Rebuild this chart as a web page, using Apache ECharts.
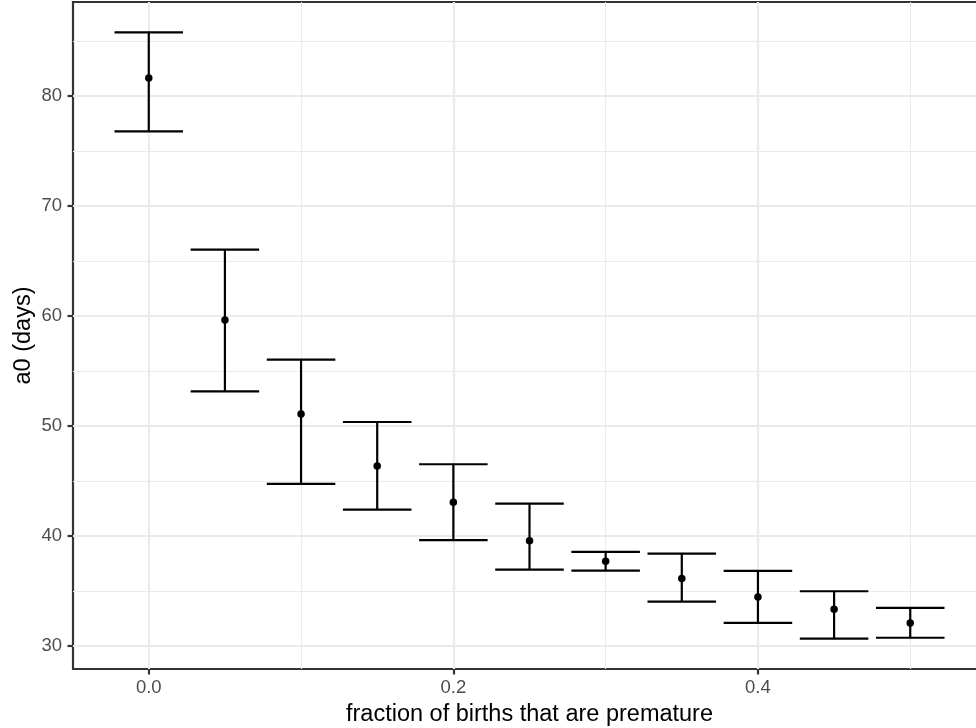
<!DOCTYPE html>
<html>
<head>
<meta charset="utf-8">
<script src="https://cdn.jsdelivr.net/npm/echarts@6/dist/echarts.min.js"></script>
<style>
html,body{margin:0;padding:0;background:#fff;}
#chart{width:976px;height:728px;}
</style>
</head>
<body>
<div id="chart"></div>
<script>
// ---- data ----
const xVals     = [0, 0.05, 0.1, 0.15, 0.2, 0.25, 0.3, 0.35, 0.4, 0.45, 0.5];
const meanVals  = [81.64, 59.64, 51.09, 46.36, 43.06, 39.57, 37.70, 36.12, 34.45, 33.34, 32.09];
const lowerVals = [76.79, 53.15, 44.73, 42.39, 39.61, 36.94, 36.85, 34.03, 32.09, 30.66, 30.74];
const upperVals = [85.79, 66.03, 56.03, 50.36, 46.52, 42.94, 38.55, 38.39, 36.82, 34.97, 33.45];
const xMajorTicks = [0, 0.2, 0.4];
const xMinorTicks = [0.1, 0.3, 0.5];
const yMajorTicks = [30, 40, 50, 60, 70, 80];
const yMinorTicks = [35, 45, 55, 65, 75, 85];
const xTitle = 'fraction of births that are premature';
const yTitle = 'a0 (days)';
const capHalf = 0.0225;

// ---- chart ----
const FONT = '"Liberation Sans", Arial, Helvetica, sans-serif';
const xMin = -0.04975, xMax = 0.54975;
const yMin = 27.9, yMax = 88.55;

const chart = echarts.init(document.getElementById('chart'), null, {renderer: 'canvas'});

const errData = xVals.map((x, i) => [x, lowerVals[i], upperVals[i]]);
const ptData = xVals.map((x, i) => [x, meanVals[i]]);

const lineStyle = {stroke: '#000', lineWidth: 2.2};
const hiddenTick = {show: true, length: 0, lineStyle: {color: 'rgba(0,0,0,0)', width: 0}};

chart.setOption({
  animation: false,
  backgroundColor: '#fff',
  grid: {
    left: 73, right: -10, top: 2, bottom: 59,
    containLabel: false, outerBoundsMode: 'none',
    show: true, borderColor: '#333333', borderWidth: 2.2, backgroundColor: 'transparent'
  },
  xAxis: [
    {
      type: 'value', min: xMin, max: xMax, position: 'bottom',
      name: xTitle, nameLocation: 'middle', nameGap: 34, nameMoveOverlap: false,
      nameTextStyle: {color: '#000', fontSize: 23.5, fontFamily: FONT},
      axisLine: {show: false, onZero: false},
      axisTick: {show: true, inside: false, length: 5.5, customValues: xMajorTicks, lineStyle: {color: '#333333', width: 2.2}},
      axisLabel: {show: true, inside: false, customValues: xMajorTicks, margin: 9, color: '#4D4D4D', fontSize: 18.5, fontFamily: FONT,
        formatter: v => v.toFixed(1)},
      splitLine: {show: true, lineStyle: {color: '#EBEBEB', width: 2.2}}
    },
    {
      type: 'value', min: xMin, max: xMax, position: 'bottom',
      axisLine: {show: false, onZero: false},
      axisTick: Object.assign({customValues: xMinorTicks}, hiddenTick),
      axisLabel: {show: false, customValues: xMinorTicks},
      splitLine: {show: true, lineStyle: {color: '#EBEBEB', width: 1.1}}
    }
  ],
  yAxis: [
    {
      type: 'value', min: yMin, max: yMax, position: 'left',
      name: yTitle, nameLocation: 'middle', nameGap: 37, nameMoveOverlap: false,
      nameTextStyle: {color: '#000', fontSize: 23.5, fontFamily: FONT},
      axisLine: {show: false, onZero: false},
      axisTick: {show: true, inside: false, length: 5.5, customValues: yMajorTicks, lineStyle: {color: '#333333', width: 2.2}},
      axisLabel: {show: true, inside: false, customValues: yMajorTicks, margin: 11, color: '#4D4D4D', fontSize: 18.5, fontFamily: FONT},
      splitLine: {show: true, lineStyle: {color: '#EBEBEB', width: 2.2}}
    },
    {
      type: 'value', min: yMin, max: yMax, position: 'left',
      axisLine: {show: false, onZero: false},
      axisTick: Object.assign({customValues: yMinorTicks}, hiddenTick),
      axisLabel: {show: false, customValues: yMinorTicks},
      splitLine: {show: true, lineStyle: {color: '#EBEBEB', width: 1.1}}
    }
  ],
  series: [
    {
      type: 'custom',
      xAxisIndex: 0, yAxisIndex: 0,
      data: errData,
      encode: {x: 0, y: [1, 2]},
      z: 5,
      renderItem: function (params, api) {
        const x = api.value(0), lo = api.value(1), hi = api.value(2);
        const pHi = api.coord([x, hi]);
        const pLo = api.coord([x, lo]);
        const left = api.coord([x - capHalf, hi])[0];
        const right = api.coord([x + capHalf, hi])[0];
        return {
          type: 'group',
          children: [
            {type: 'line', shape: {x1: pHi[0], y1: pHi[1], x2: pLo[0], y2: pLo[1]}, style: lineStyle},
            {type: 'line', shape: {x1: left, y1: pHi[1], x2: right, y2: pHi[1]}, style: lineStyle},
            {type: 'line', shape: {x1: left, y1: pLo[1], x2: right, y2: pLo[1]}, style: lineStyle}
          ]
        };
      }
    },
    {
      type: 'scatter',
      xAxisIndex: 0, yAxisIndex: 0,
      data: ptData,
      symbol: 'circle',
      symbolSize: 7.5,
      itemStyle: {color: '#000', opacity: 1},
      z: 6
    }
  ]
});
</script>
</body>
</html>
